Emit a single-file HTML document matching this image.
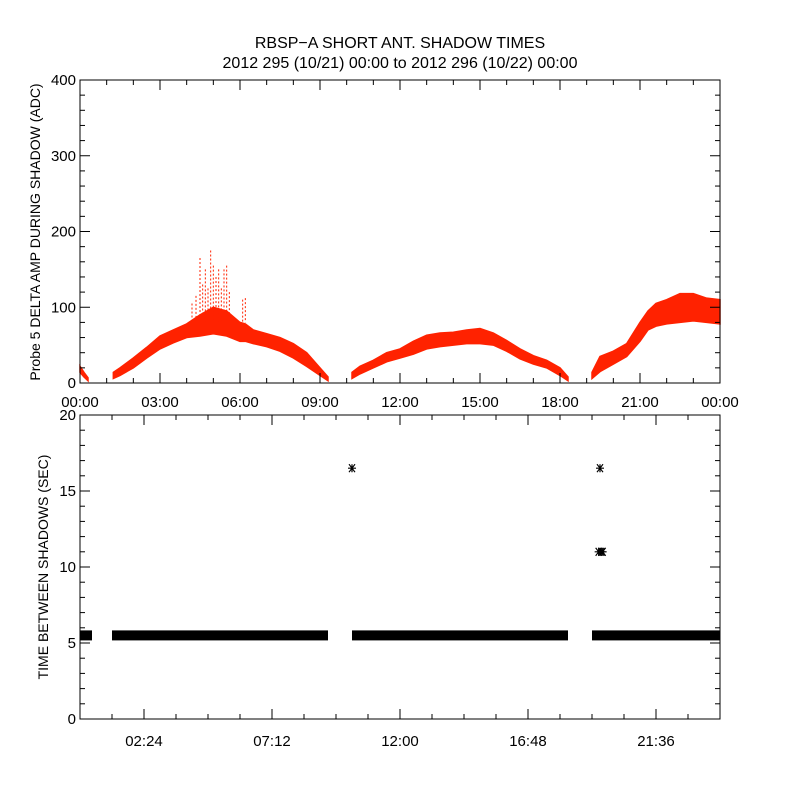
<!DOCTYPE html>
<html><head><meta charset="utf-8"><style>
body{margin:0;background:#fff;}
svg{display:block;font-family:"Liberation Sans",sans-serif;}
</style></head><body>
<svg id="c" width="800" height="800">
<rect width="800" height="800" fill="#fff"/>
<text x="400" y="48" text-anchor="middle" font-size="16">RBSP−A SHORT ANT. SHADOW TIMES</text>
<text x="400" y="68" text-anchor="middle" font-size="16">2012 295 (10/21) 00:00 to 2012 296 (10/22) 00:00</text>
<g id="top"></g>
<g id="bot"></g>
<text transform="translate(40,232) rotate(-90)" text-anchor="middle" font-size="14">Probe 5 DELTA AMP DURING SHADOW (ADC)</text>
<text transform="translate(48,567) rotate(-90)" text-anchor="middle" font-size="14">TIME BETWEEN SHADOWS (SEC)</text>
</svg>
<script>
// top panel data (hours, ADC lower/upper envelope)
const seg1T=[0.0,0.15,0.3];
const seg1Lo=[14,8,3];
const seg1Hi=[22,14,7];
const seg2T=[1.25,1.5,2.0,2.5,3.0,3.5,4.0,4.5,5.0,5.5,6.0,6.2,6.5,7.0,7.5,8.0,8.5,9.0,9.3];
const seg2Lo=[6,10,20,33,45,53,60,62,65,62,55,55,52,48,42,33,22,10,3];
const seg2Hi=[14,20,33,47,62,70,78,90,100,95,80,78,70,65,60,52,40,20,8];
const seg3T=[10.2,10.5,11.0,11.5,12.0,12.5,13.0,13.5,14.0,14.5,15.0,15.5,16.0,16.5,17.0,17.5,18.0,18.3];
const seg3Lo=[6,12,20,28,33,38,45,48,50,52,52,50,42,32,25,20,10,3];
const seg3Hi=[14,22,30,40,45,55,63,66,67,70,72,66,56,45,36,30,20,8];
const seg4T=[19.2,19.5,20.0,20.5,21.0,21.3,21.6,22.0,22.5,23.0,23.5,24.0];
const seg4Lo=[6,15,25,35,55,70,75,78,80,82,80,78];
const seg4Hi=[14,35,42,52,80,95,105,110,118,118,112,110];
const spikeT=[4.2,4.35,4.5,4.6,4.7,4.8,4.9,5.0,5.1,5.2,5.3,5.4,5.5,5.6,6.1,6.2];
const spikeV=[105,115,165,130,150,125,175,155,140,150,125,150,155,120,110,112];
const topXTicks=['00:00','03:00','06:00','09:00','12:00','15:00','18:00','21:00','00:00'];
const topYTicks=[0,100,200,300,400];
// bottom panel data
const botSegStart=[0.0,1.2,10.2,19.2];
const botSegEnd=[0.45,9.3,18.3,24.0];
const botSegVal=[5.5,5.5,5.5,5.5];
const outT=[10.2,19.5,19.45,19.55,19.6];
const outV=[16.5,16.5,11,11,11];
const botXTicks=['02:24','07:12','12:00','16:48','21:36'];
const botYTicks=[0,5,10,15,20];

const NS='http://www.w3.org/2000/svg';
function mk(p,tag,at){const e=document.createElementNS(NS,tag);for(const k in at)e.setAttribute(k,at[k]);p.appendChild(e);return e;}
const L=80,R=720;
const xs=h=>L+h/24*(R-L);
const T0=383,T1=80; const yt=v=>T0-v/400*(T0-T1);
const B0=719,B1=415; const yb=v=>B0-v/20*(B0-B1);
const topG=document.getElementById('top'), botG=document.getElementById('bot');

[[seg1T,seg1Lo,seg1Hi],[seg2T,seg2Lo,seg2Hi],[seg3T,seg3Lo,seg3Hi],[seg4T,seg4Lo,seg4Hi]].forEach((s,i)=>{
  const [t,lo,hi]=s;let pts=[];
  for(let j=0;j<t.length;j++)pts.push(xs(t[j])+','+yt(hi[j]));
  for(let j=t.length-1;j>=0;j--)pts.push(xs(t[j])+','+yt(lo[j]));
  const p=mk(topG,'polygon',{points:pts.join(' '),fill:'#ff2200',stroke:'#ff2200','stroke-width':1.5});
  
  
});
spikeT.forEach((t,i)=>{
  const l=mk(topG,'line',{x1:xs(t),x2:xs(t),y1:yt(spikeV[i]),y2:yt(80),stroke:'#ff2200','stroke-width':1,'stroke-dasharray':'2,2'});
  
  
});
const tf=mk(topG,'rect',{x:L,y:T1,width:R-L,height:T0-T1,fill:'none',stroke:'#000','stroke-width':1});


for(let v=0;v<=400;v+=20){const len=v%100===0?10:5;
  mk(topG,'line',{x1:L,x2:L+len,y1:yt(v),y2:yt(v),stroke:'#000'});
  mk(topG,'line',{x1:R,x2:R-len,y1:yt(v),y2:yt(v),stroke:'#000'});}
topYTicks.forEach(v=>{const t=mk(topG,'text',{x:L-4,y:yt(v)+5,'text-anchor':'end','font-size':15});t.textContent=v;
  
  });
for(let h=0;h<=24;h+=1){const len=h%3===0?10:5;
  mk(topG,'line',{x1:xs(h),x2:xs(h),y1:T0,y2:T0-len,stroke:'#000'});
  mk(topG,'line',{x1:xs(h),x2:xs(h),y1:T1,y2:T1+len,stroke:'#000'});}
topXTicks.forEach((s,i)=>{const t=mk(topG,'text',{x:xs(i*3),y:407,'text-anchor':'middle','font-size':15});t.textContent=s;
  
  });

botSegStart.forEach((s,i)=>{
  const r=mk(botG,'rect',{x:xs(s),y:yb(botSegVal[i])-5,width:xs(botSegEnd[i])-xs(s),height:10,fill:'#000'});
  
  
});
outT.forEach((t,i)=>{
  const cx=xs(t), cy=yb(outV[i]);
  const d=`M${cx-4},${cy}H${cx+4}M${cx-3},${cy-4}L${cx+3},${cy+4}M${cx+3},${cy-4}L${cx-3},${cy+4}M${cx},${cy-4}V${cy+4}`;
  const g=mk(botG,'path',{d:d,stroke:'#000','stroke-width':1.2,fill:'none'});
  
  
});
const bf=mk(botG,'rect',{x:L,y:B1,width:R-L,height:B0-B1,fill:'none',stroke:'#000','stroke-width':1});


for(let v=0;v<=20;v+=1){const len=v%5===0?10:5;
  mk(botG,'line',{x1:L,x2:L+len,y1:yb(v),y2:yb(v),stroke:'#000'});
  mk(botG,'line',{x1:R,x2:R-len,y1:yb(v),y2:yb(v),stroke:'#000'});}
botYTicks.forEach(v=>{const t=mk(botG,'text',{x:L-4,y:yb(v)+5,'text-anchor':'end','font-size':15});t.textContent=v;
  
  });
for(let k=0;k<=20;k++){const h=k*1.2;const len=(k%4===2)?10:5;
  mk(botG,'line',{x1:xs(h),x2:xs(h),y1:B0,y2:B0-len,stroke:'#000'});
  mk(botG,'line',{x1:xs(h),x2:xs(h),y1:B1,y2:B1+len,stroke:'#000'});}
botXTicks.forEach((s,i)=>{const t=mk(botG,'text',{x:xs(2.4+i*4.8),y:746,'text-anchor':'middle','font-size':15});t.textContent=s;
  
  });
</script>
</body></html>
